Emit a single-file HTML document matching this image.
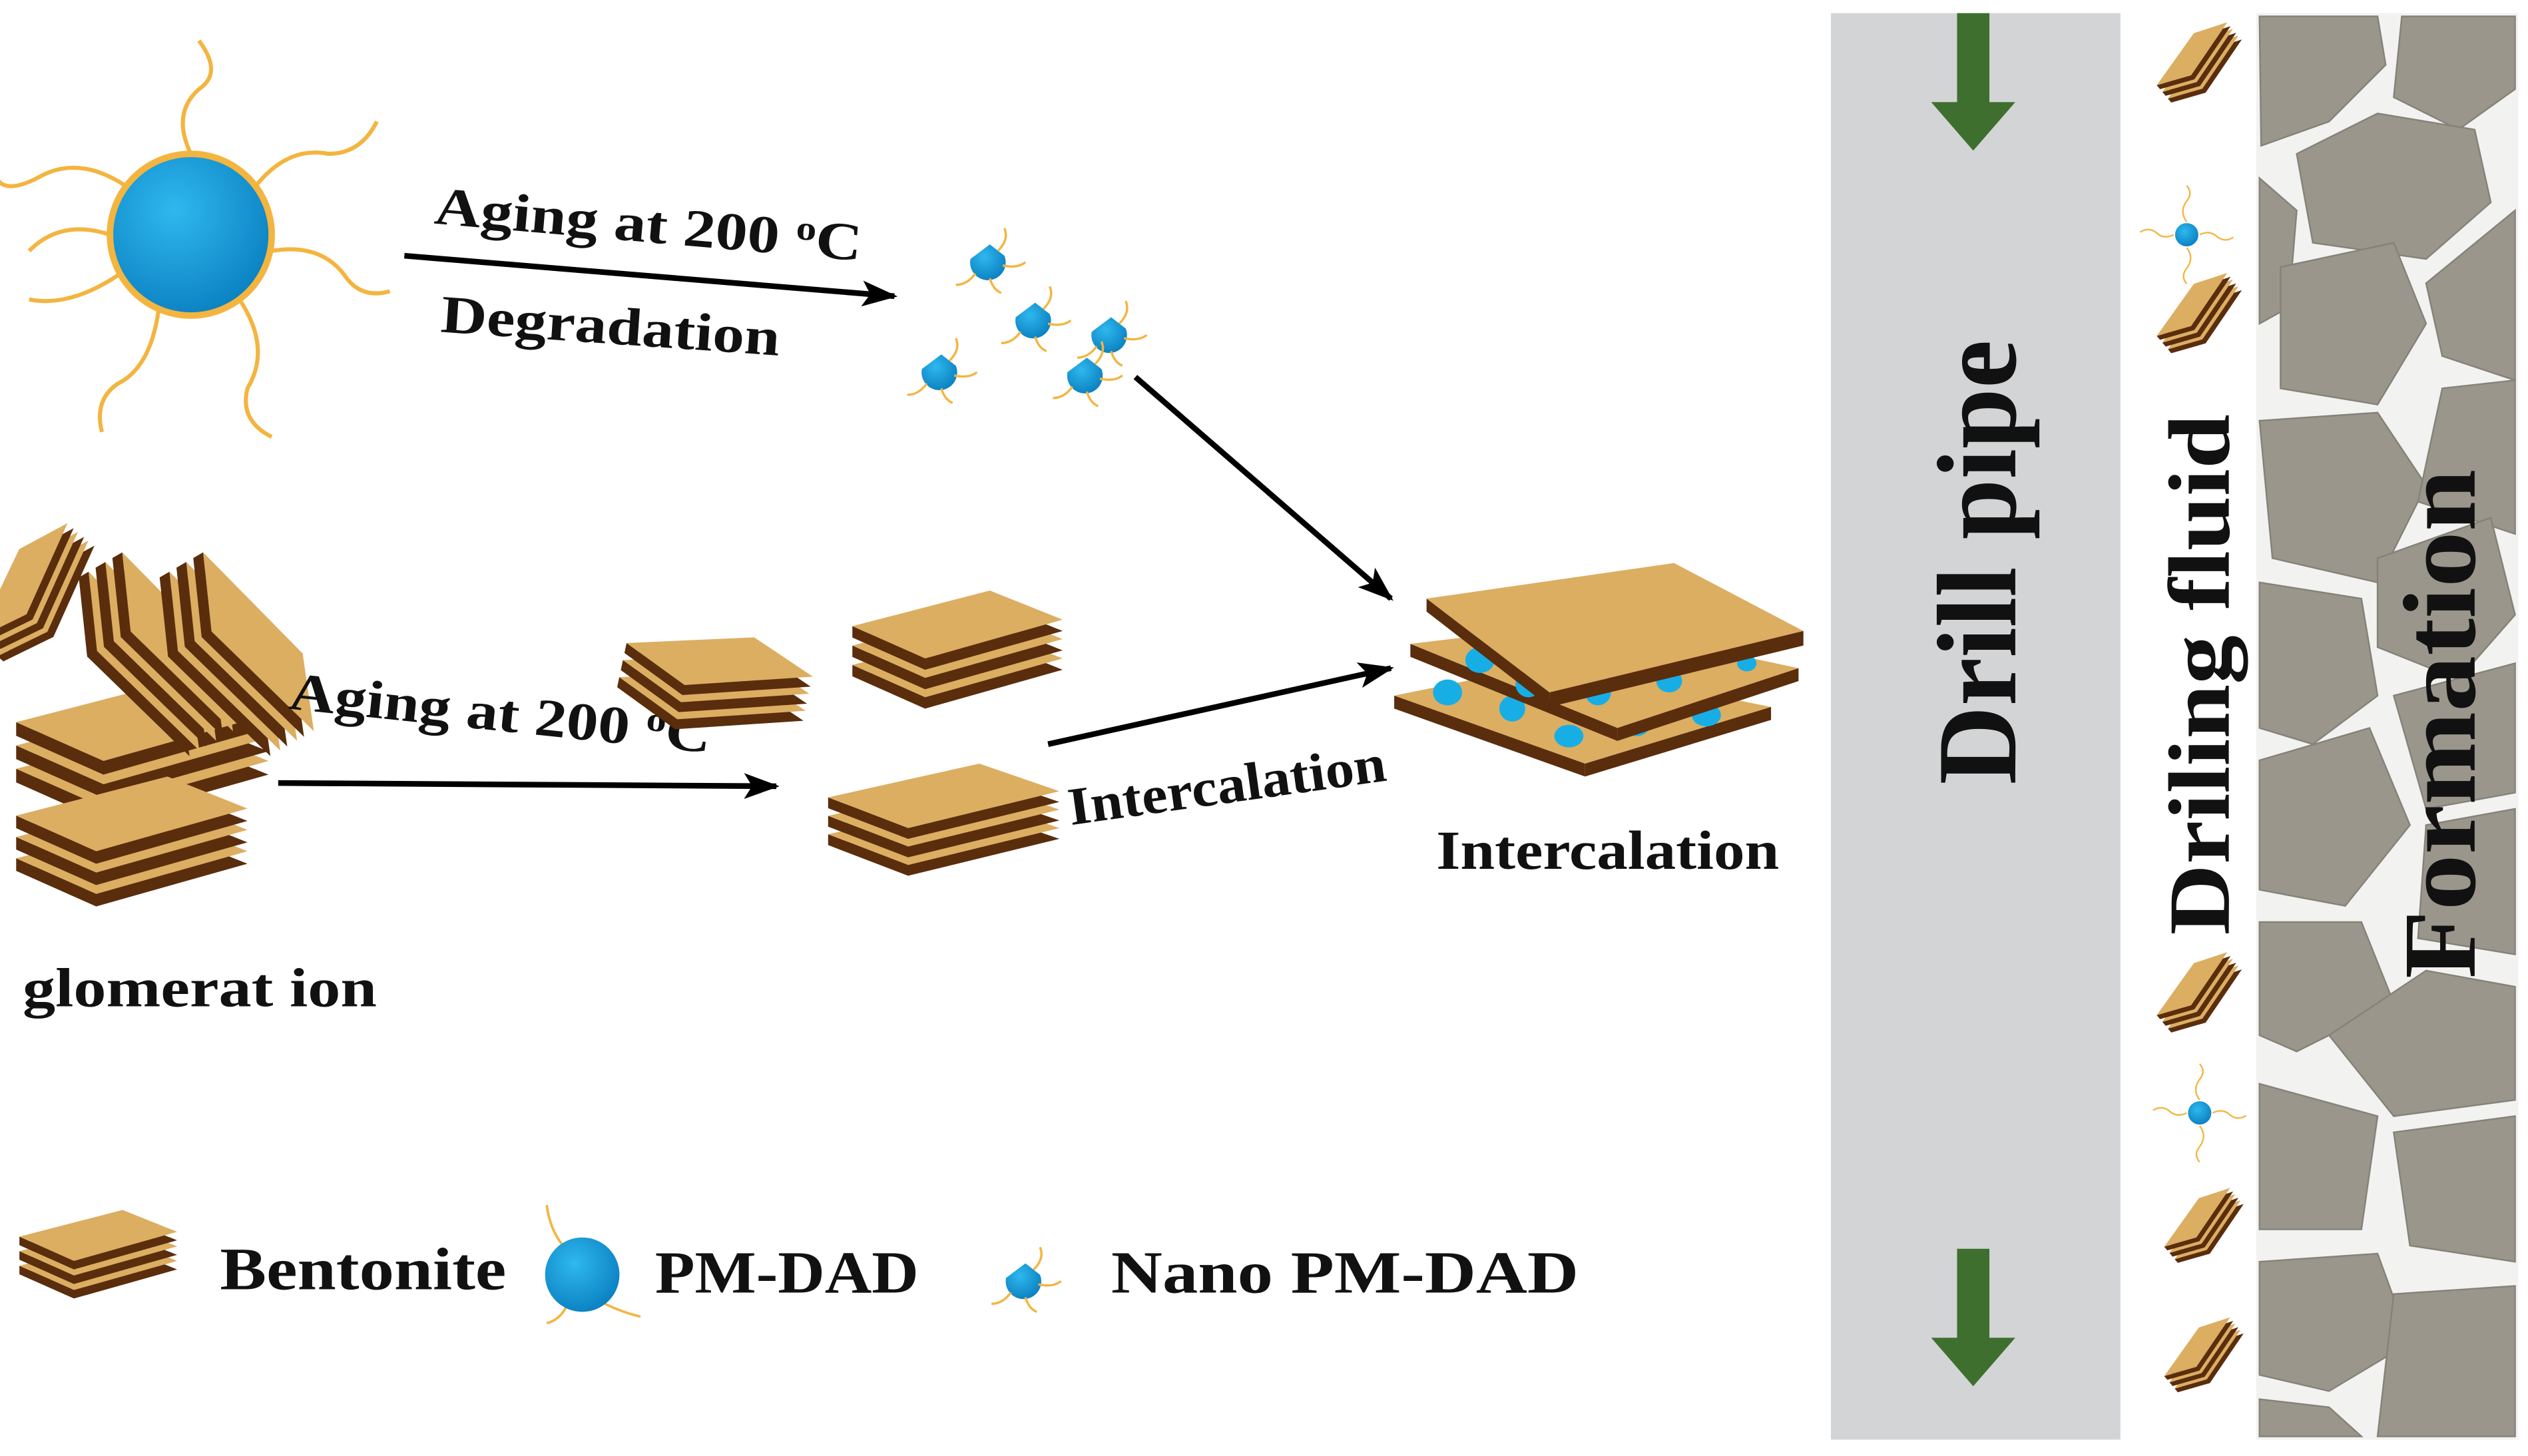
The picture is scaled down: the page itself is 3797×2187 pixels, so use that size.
<!DOCTYPE html>
<html><head><meta charset="utf-8"><style>
html,body{margin:0;padding:0;background:#fff;}
svg{display:block;}
text{font-family:"Liberation Serif",serif;font-weight:bold;fill:#111;}
</style></head><body>
<svg width="3797" height="2187" viewBox="0 0 1563 900" xmlns="http://www.w3.org/2000/svg">
<defs>
<radialGradient id="bl" cx="0.4" cy="0.35" r="0.7"><stop offset="0" stop-color="#2fb8ee"/><stop offset="1" stop-color="#0a7fc0"/></radialGradient>
<g id="pl"><polygon points="0,22 85,0 130,18 45,42" transform="translate(0,7)" fill="#5a2d0d"/><polygon points="0,29 0,22 45,42 45,49" fill="#5a2d0d"/><polygon points="0,22 85,0 130,18 45,42" fill="#dcae62"/></g>
<g id="st"><use href="#pl" y="24"/><use href="#pl" y="12"/><use href="#pl"/></g>
<g id="nano"><path d="M-10,-2 A11,11 0 1,0 11,-4 L2,-11 Z" fill="url(#bl)"/><path d="M7,-7 q7,-7 4,-14 M10,2 q9,2 14,-2 M-7,7 q-5,7 -12,7 M2,10 q2,7 7,9" stroke="#f3b540" stroke-width="1.4" fill="none"/></g>
<g id="sph"><path d="M0,-10 q-6,-8 0,-16 q5,-6 0,-12 M10,0 q8,-4 14,2 q6,4 12,0 M0,10 q6,8 0,16 q-5,6 0,12 M-10,0 q-8,4 -14,-2 q-6,-4 -12,0" stroke="#f3b540" stroke-width="1.2" fill="none"/><circle r="9" fill="url(#bl)"/></g>
<marker id="ah" markerWidth="22" markerHeight="16" refX="20" refY="8" orient="auto" markerUnits="userSpaceOnUse" viewBox="0 0 22 16"><path d="M0,0 L22,8 L0,16 L5,8 Z" fill="#000"/></marker>
</defs>

<!-- Drill pipe -->
<rect x="1132" y="8" width="179" height="882" fill="#d3d4d6"/>
<path d="M1210,8 h20 v55 h16 l-26,30 l-26,-30 h16 Z" fill="#3f6f2e"/>
<path d="M1210,772 h20 v55 h16 l-26,30 l-26,-30 h16 Z" fill="#3f6f2e"/>
<text transform="translate(1246,485) rotate(-90)" font-size="70" textLength="275" lengthAdjust="spacingAndGlyphs">Drill pipe</text>

<!-- Formation -->
<rect x="1395" y="8" width="162" height="882" fill="#f2f2f0"/>
<g fill="#9a968b" stroke="#85827a" stroke-width="1">
<polygon points="1397,10 1470,10 1475,40 1440,75 1398,90"/>
<polygon points="1485,10 1555,10 1555,55 1520,80 1480,60"/>
<polygon points="1420,95 1470,70 1530,80 1540,125 1500,160 1430,150"/>
<polygon points="1397,110 1420,130 1415,190 1397,200"/>
<polygon points="1500,175 1555,130 1555,235 1510,220"/>
<polygon points="1410,165 1480,150 1500,200 1470,250 1410,240"/>
<polygon points="1397,260 1470,255 1500,300 1470,360 1405,345"/>
<polygon points="1510,240 1555,235 1555,330 1495,310"/>
<polygon points="1470,345 1540,320 1555,380 1520,420 1470,400"/>
<polygon points="1397,360 1460,370 1470,430 1430,460 1397,450"/>
<polygon points="1480,430 1555,410 1555,490 1500,500"/>
<polygon points="1397,470 1465,450 1490,510 1450,560 1397,550"/>
<polygon points="1500,510 1555,500 1555,590 1495,580"/>
<polygon points="1397,570 1460,570 1480,620 1420,650 1397,640"/>
<polygon points="1440,640 1500,600 1555,610 1555,680 1480,690"/>
<polygon points="1397,670 1470,690 1460,760 1397,760"/>
<polygon points="1480,700 1555,690 1555,780 1490,770"/>
<polygon points="1397,780 1470,775 1490,830 1440,860 1397,850"/>
<polygon points="1480,800 1555,795 1555,888 1470,888"/>
<polygon points="1397,865 1440,870 1460,888 1397,888"/>
</g>
<text transform="translate(1530,605) rotate(-90)" font-size="64" textLength="315" lengthAdjust="spacingAndGlyphs">Formation</text>

<!-- Drilling fluid particles -->
<g transform="translate(1328,25) scale(0.45) rotate(-40 60 25)"><use href="#st"/></g>
<g transform="translate(1352,145) scale(0.8)"><use href="#sph"/></g>
<g transform="translate(1328,180) scale(0.45) rotate(-40 60 25)"><use href="#st"/></g>
<g transform="translate(1328,600) scale(0.45) rotate(-40 60 25)"><use href="#st"/></g>
<g transform="translate(1360,688) scale(0.8)"><use href="#sph"/></g>
<g transform="translate(1333,745) scale(0.42) rotate(-40 60 25)"><use href="#st"/></g>
<g transform="translate(1333,825) scale(0.42) rotate(-40 60 25)"><use href="#st"/></g>
<text transform="translate(1378,578) rotate(-90)" font-size="54" textLength="322" lengthAdjust="spacingAndGlyphs">Driling fluid</text>

<!-- Big sphere -->
<g transform="translate(118,145)">
<g stroke="#f3b540" stroke-width="2.5" fill="none">
<path d="M0,-50 q-12,-25 5,-40 q15,-10 0,-30"/>
<path d="M40,-30 q20,-25 45,-20 q20,0 30,-20"/>
<path d="M50,10 q30,-5 45,15 q10,15 28,10"/>
<path d="M30,40 q20,30 5,55 q-5,20 15,30"/>
<path d="M-20,47 q-5,35 -25,45 q-15,10 -10,30"/>
<path d="M-50,0 q-30,-10 -50,10"/>
<path d="M-40,-30 q-30,-20 -55,-5 q-20,10 -25,0"/>
<path d="M-45,25 q-30,20 -55,15"/>
</g>
<circle r="50" fill="url(#bl)" stroke="#f3b540" stroke-width="4"/>
</g>

<!-- Arrow 1 -->
<line x1="250" y1="158" x2="553" y2="183" stroke="#000" stroke-width="3.5" marker-end="url(#ah)"/>
<text transform="translate(268,138) rotate(5)" font-size="33" textLength="265" lengthAdjust="spacingAndGlyphs">Aging at 200 <tspan font-size="21" dy="-10">o</tspan><tspan dy="10">C</tspan></text>
<text transform="translate(272,205) rotate(4)" font-size="33" textLength="210" lengthAdjust="spacingAndGlyphs">Degradation</text>

<!-- Nano particles -->
<use href="#nano" x="610" y="162"/>
<use href="#nano" x="638" y="198"/>
<use href="#nano" x="685" y="207"/>
<use href="#nano" x="580" y="230"/>
<use href="#nano" x="670" y="232"/>

<!-- Arrow 2 -->
<line x1="702" y1="233" x2="860" y2="370" stroke="#000" stroke-width="3.5" marker-end="url(#ah)"/>

<!-- Agglomerate -->
<g transform="translate(10,420) scale(1.2)"><use href="#st"/></g>
<g transform="translate(10,480) scale(1.1)"><use href="#st"/></g>
<g transform="translate(40,345) rotate(60 40 40)"><use href="#st"/></g>
<g transform="translate(90,345) rotate(60 40 40)"><use href="#st"/></g>
<g transform="translate(-10,340) rotate(-50 40 40) scale(0.7)"><use href="#st"/></g>
<text x="14" y="622" font-size="34" textLength="219" lengthAdjust="spacingAndGlyphs">glomerat ion</text>

<!-- Arrow 3 -->
<line x1="172" y1="484" x2="480" y2="486" stroke="#000" stroke-width="3.5" marker-end="url(#ah)"/>
<text transform="translate(178,438) rotate(6)" font-size="33" textLength="262" lengthAdjust="spacingAndGlyphs">Aging at 200 <tspan font-size="21" dy="-10">o</tspan><tspan dy="10">C</tspan></text>

<!-- Small stacks -->
<g transform="translate(385,390) rotate(12 60 25) scale(0.9)"><use href="#st"/></g>
<g transform="translate(527,365)"><use href="#st"/></g>
<g transform="translate(512,472) scale(1.1,0.95)"><use href="#st"/></g>

<!-- Arrow 4 -->
<line x1="648" y1="460" x2="860" y2="413" stroke="#000" stroke-width="3.5" marker-end="url(#ah)"/>
<text transform="translate(662,510) rotate(-8)" font-size="33" textLength="198" lengthAdjust="spacingAndGlyphs">Intercalation</text>

<!-- Intercalated stack -->
<g>
<polygon points="862,430 960,410 1095,437 980,472" fill="#dcae62"/>
<polygon points="862,430 980,472 980,480 862,438" fill="#5a2d0d"/>
<polygon points="980,472 1095,437 1095,445 980,480" fill="#5a2d0d"/>
<g fill="#17aee6"><ellipse cx="895" cy="428" rx="9" ry="8"/><ellipse cx="970" cy="455" rx="9" ry="7"/><ellipse cx="1012" cy="448" rx="8" ry="7"/><ellipse cx="1055" cy="442" rx="9" ry="7"/><ellipse cx="935" cy="438" rx="8" ry="8"/></g>
<polygon points="872,398 980,385 1112,413 1000,450" fill="#dcae62"/>
<polygon points="872,398 1000,450 1000,458 872,406" fill="#5a2d0d"/>
<polygon points="1000,450 1112,413 1112,421 1000,458" fill="#5a2d0d"/>
<g fill="#17aee6"><ellipse cx="915" cy="408" rx="9" ry="8"/><ellipse cx="945" cy="423" rx="8" ry="8"/><ellipse cx="988" cy="428" rx="8" ry="8"/><ellipse cx="1032" cy="421" rx="8" ry="7"/><ellipse cx="1080" cy="410" rx="6" ry="5"/></g>
<polygon points="882,370 1035,348 1115,390 958,428" fill="#dcae62"/>
<polygon points="882,370 958,428 958,437 882,378" fill="#5a2d0d"/>
<polygon points="958,428 1115,390 1115,399 958,437" fill="#5a2d0d"/>
</g>
<text x="888" y="537" font-size="34" textLength="212" lengthAdjust="spacingAndGlyphs">Intercalation</text>

<!-- Legend -->
<g transform="translate(12,748) scale(0.75)"><use href="#st"/></g>
<text x="136" y="797" font-size="37" textLength="177" lengthAdjust="spacingAndGlyphs">Bentonite</text>
<g transform="translate(360,788)">
<path d="M-12,-18 q-8,-10 -10,-25 M14,18 q10,5 22,8 M-10,20 q-4,8 -12,10" stroke="#f3b540" stroke-width="1.5" fill="none"/>
<circle r="23" fill="url(#bl)"/>
</g>
<text x="405" y="799" font-size="37" textLength="163" lengthAdjust="spacingAndGlyphs">PM-DAD</text>
<use href="#nano" x="632" y="792"/>
<text x="687" y="799" font-size="37" textLength="289" lengthAdjust="spacingAndGlyphs">Nano PM-DAD</text>
</svg>
</body></html>
